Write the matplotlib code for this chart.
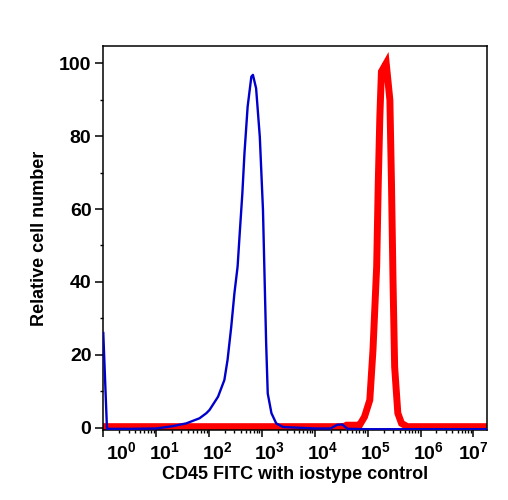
import numpy as np
import matplotlib
matplotlib.use('Agg')
import matplotlib.pyplot as plt
import matplotlib.transforms as mtransforms
from matplotlib.ticker import LogLocator, NullFormatter, MultipleLocator

plt.rcParams['font.family'] = ['Liberation Sans', 'DejaVu Sans']
plt.rcParams['font.weight'] = 'bold'
plt.rcParams['mathtext.fontset'] = 'custom'
plt.rcParams['mathtext.rm'] = 'Liberation Sans:bold'
plt.rcParams['mathtext.bf'] = 'Liberation Sans:bold'
plt.rcParams['mathtext.it'] = 'Liberation Sans:bold'

# isotype control (blue): log10(intensity) and relative count
iso_log = [0.0, 0.07, 0.5, 1.0, 1.3, 1.57, 1.82, 1.95, 2.01, 2.17, 2.29, 2.35,
           2.42, 2.48, 2.54, 2.58, 2.63, 2.67, 2.73, 2.80, 2.83, 2.89, 2.96,
           3.02, 3.05, 3.08, 3.11, 3.18, 3.27, 3.40, 4.0, 4.3, 4.42, 4.52,
           4.62, 5.0, 6.0, 7.25]
iso_cnt = [26, -0.3, -0.3, -0.2, 0.4, 1.2, 2.6, 4.0, 4.9, 8.5, 13.1, 18.6,
           27.7, 36.9, 44.2, 53.3, 64.3, 75.3, 88.1, 96.3, 96.8, 93.1, 79.8,
           59.7, 41.4, 23.2, 9.4, 4.0, 1.2, 0.2, -0.2, -0.2, 0.8, 0.9,
           -0.3, -0.4, -0.4, -0.4]

# CD45 FITC (red)
cd45_log = [0.0, 1.0, 2.0, 3.0, 4.0, 4.55, 4.6, 4.8, 4.85, 4.94, 5.04, 5.10,
            5.17, 5.20, 5.23, 5.26, 5.35, 5.42, 5.45, 5.48, 5.51, 5.57, 5.64,
            5.75, 6.0, 7.0, 7.25]
cd45_cnt = [0.3, 0.3, 0.3, 0.3, 0.3, 0.3, 0.7, 0.7, 0.8, 3.0, 7.6, 21.3,
            44.2, 67.0, 85.3, 97.7, 100.0, 89.9, 67.0, 39.6, 16.7, 4.0, 1.2,
            0.3, 0.3, 0.3, 0.3]

decades = [0, 1, 2, 3, 4, 5, 6, 7]
label_shift = [18, 8, 8, 8, 8, 8, 8, 0]  # px offset of each decade label

fig = plt.figure(figsize=(5.08, 5.00), dpi=100)
ax = fig.add_axes([0.2033, 0.1394, 0.7547, 0.7692])

ax.plot(10 ** np.array(cd45_log), cd45_cnt, color='#FF0000', linewidth=5.0,
        solid_joinstyle='miter', zorder=2)
ax.plot(10 ** np.array(iso_log), iso_cnt, color='#0000CC', linewidth=1.7,
        zorder=3)

ax.set_xscale('log')
ax.set_xlim(1, 10 ** 7.25)
ax.set_ylim(-0.7, 104.8)

ax.set_xticks([10.0 ** d for d in decades])
ax.set_xticklabels([r'$10^{%d}$' % d for d in decades])
ax.xaxis.set_minor_locator(LogLocator(base=10, subs=np.arange(2, 10), numticks=20))
ax.xaxis.set_minor_formatter(NullFormatter())

ax.set_yticks([0, 20, 40, 60, 80, 100])
ax.yaxis.set_minor_locator(MultipleLocator(10))

ax.tick_params(axis='both', which='major', direction='out', length=5, width=1.1,
               labelsize=14, pad=3)
ax.tick_params(axis='both', which='minor', direction='out', length=2.5, width=1.0)
ax.tick_params(axis='y', which='major', length=5.5)

for lab, dx in zip(ax.get_xticklabels(), label_shift):
    lab.set_transform(lab.get_transform() +
                      mtransforms.ScaledTranslation(dx / 100, 0, fig.dpi_scale_trans))

for s in ax.spines.values():
    s.set_linewidth(1.1)

ax.set_xlabel('CD45 FITC with iostype control', fontsize=13, fontweight='bold',
              labelpad=2)
ax.set_ylabel('Relative cell number', fontsize=13, fontweight='bold', labelpad=8)

fig.savefig('out.png', dpi=100)
plt.close(fig)
